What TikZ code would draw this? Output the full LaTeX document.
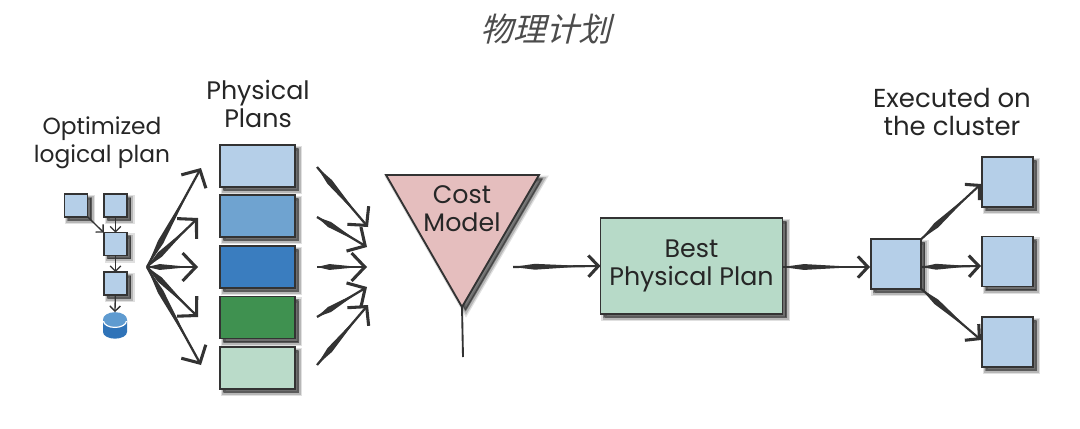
\documentclass[tikz,border=0pt]{standalone}
\usepackage{fontspec}
\setmainfont{Poppins}
\newfontfamily\titlecjk[FakeSlant=0.25]{Noto Sans CJK SC}
\usetikzlibrary{arrows.meta,calc,shapes.geometric,shadows}
\definecolor{ink}{HTML}{333333}
\definecolor{planA}{HTML}{B5CFE8}
\definecolor{planB}{HTML}{6FA3D0}
\definecolor{planC}{HTML}{3A7DBF}
\definecolor{planD}{HTML}{3F9150}
\definecolor{planE}{HTML}{BADBC9}
\definecolor{costpink}{HTML}{E5BEBE}
\definecolor{bestgreen}{HTML}{B7DAC8}
\definecolor{cylbody}{HTML}{2F73B8}
\definecolor{cyltop}{HTML}{5F9BD0}
\tikzset{
  softshadow/.style={
    general shadow={shadow xshift=3pt,shadow yshift=-3pt,opacity=.12,fill=black,draw=black,line width=5pt},
    general shadow={shadow xshift=3pt,shadow yshift=-3pt,opacity=.18,fill=black,draw=black,line width=3pt},
    general shadow={shadow xshift=2.5pt,shadow yshift=-2.5pt,opacity=.3,fill=black,draw=black,line width=1pt}},
  sketchbox/.style={draw=ink,line width=1.4pt,softshadow,inner sep=0pt,outer sep=0pt},
  planbox/.style={sketchbox,minimum width=56.25pt,minimum height=31.5pt},
  tinybox/.style={sketchbox,fill=planA,line width=1.1pt,minimum width=17.5pt,minimum height=17pt},
  execbox/.style={sketchbox,fill=planA,minimum width=38pt,minimum height=37.5pt},
  label/.style={font=\fontsize{19}{21}\selectfont,align=center,text=black!85,inner sep=0pt},
  thinlink/.style={draw=ink,line width=1pt,-{Straight Barb[length=4pt,width=8pt,line width=1pt]}},
  inklink/.style={draw=ink,line width=1.7pt,-{Straight Barb[length=10pt,width=21pt,line width=2.3pt]}},
  shortlink/.style={draw=ink,line width=1.6pt,-{Straight Barb[length=7.5pt,width=16pt,line width=2.3pt]}},
}
\newcommand{\brushlink}[3][inklink]{%
  \draw[#1] (#2) -- (#3);
  \fill[ink] (#2) -- ($(#2)!.25!(#3)!2.2pt!90:(#3)$) -- ($(#2)!.85!(#3)$) -- ($(#2)!.25!(#3)!2.2pt!-90:(#3)$) -- cycle;
}
\begin{document}
\begin{tikzpicture}[x=.75pt,y=-.75pt]
\useasboundingbox (0,0) rectangle (1080,428);
\fill[white] (0,0) rectangle (1080,428);

\node[font=\titlecjk\fontsize{24.5}{28}\selectfont,text=black!70,inner sep=0pt] (title) at (546,29) {物理计划};

\node[label,font=\fontsize{17.5}{21}\selectfont] (optlabel) at (102,143) {Optimized\\logical plan};
\node[label] (physlabel) at (258,104) {Physical\\Plans};
\node[label,font=\fontsize{19.5}{21}\selectfont] (execlabel) at (952,112) {Executed on\\the cluster};

% logical plan
\node[tinybox] (la) at (76,205.5) {};
\node[tinybox] (lb) at (115.5,205.5) {};
\node[tinybox] (lc) at (115.5,244) {};
\node[tinybox] (ld) at (115.5,283.5) {};
\fill[cylbody] (103,320) -- (103,332) arc[start angle=180,end angle=360,x radius=9pt,y radius=5pt] -- (127,320) -- cycle;
\node[ellipse,fill=cyltop,draw=none,minimum width=18pt,minimum height=11pt,inner sep=0pt,outer sep=0pt] (db) at (115,319.5) {};
\draw[white,line width=.9pt] (103.5,321) arc[start angle=180,end angle=360,x radius=8.6pt,y radius=4.8pt];
\draw[thinlink] (la.south east) -- (lc.north west);
\draw[thinlink] (lb) -- (lc);
\draw[thinlink] (lc) -- (ld);
\draw[thinlink] (ld) -- (db.north);

% physical plans
\node[planbox,fill=planA] (p1) at (257.5,166) {};
\node[planbox,fill=planB] (p2) at (257.5,216) {};
\node[planbox,fill=planC] (p3) at (257.5,267) {};
\node[planbox,fill=planD] (p4) at (257.5,317.5) {};
\node[planbox,fill=planE] (p5) at (257.5,368) {};

% fan out
\coordinate (fan) at (147,267);
\coordinate (f1) at (201,168);
\coordinate (f2) at (198,218);
\coordinate (f3) at (198,267);
\coordinate (f4) at (198,317);
\coordinate (f5) at (201,365);
\foreach \t in {f1,f2,f3,f4,f5} {\brushlink{fan}{\t}}

% fan in
\coordinate (s1) at (317,167);
\coordinate (s2) at (317,217);
\coordinate (s3) at (317,267);
\coordinate (s4) at (317,317);
\coordinate (s5) at (317,365);
\coordinate (t1) at (368,227);
\coordinate (t2) at (367,247);
\coordinate (t3) at (367,267);
\coordinate (t4) at (367,287);
\coordinate (t5) at (368,305);
\brushlink{s1}{t1}
\brushlink{s2}{t2}
\brushlink{s3}{t3}
\brushlink{s4}{t4}
\brushlink{s5}{t5}

% cost model
\coordinate (tl) at (386,175);
\coordinate (tr) at (539,175);
\coordinate (tb) at (462,307);
\coordinate (stem) at (463,357);
\draw[sketchbox,fill=costpink,line join=miter] (tl) -- (tr) -- (tb) -- cycle;
\draw[draw=ink,line width=1.4pt] (tb) -- (stem);
\node[label] (cost) at (462,209) {Cost\\Model};

% best plan
\node[sketchbox,fill=bestgreen,minimum width=136.5pt,minimum height=72pt,label] (best) at (691.5,266) {Best\\Physical Plan};
\coordinate (c0) at (513,267);
\brushlink[shortlink]{c0}{best.west}

% execution
\node[execbox] (ctr) at (896,264) {};
\node[execbox] (e1) at (1007.5,182) {};
\node[execbox] (e2) at (1007.5,261.5) {};
\node[execbox] (e3) at (1007.5,342) {};
\coordinate (b0) at (782,267);
\coordinate (b1) at (870,267);
\brushlink[shortlink]{b0}{b1}
\coordinate (m0) at (921,267);
\coordinate (m1) at (981,266);
\coordinate (u1) at (981,184);
\coordinate (d1) at (981,340);
\brushlink[shortlink]{ctr.north east}{u1}
\brushlink[shortlink]{m0}{m1}
\brushlink[shortlink]{ctr.south east}{d1}
\end{tikzpicture}
\end{document}
